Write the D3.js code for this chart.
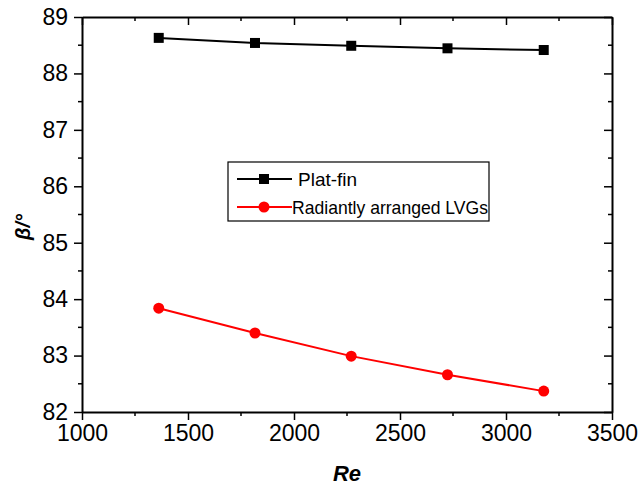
<!DOCTYPE html>
<html>
<head>
<meta charset="utf-8">
<script src="https://cdn.jsdelivr.net/npm/d3@7"></script>
<style>
  body { margin: 0; background: #fff; }
  text { font-family: Arial, "Liberation Sans", sans-serif; fill: #000; }
</style>
</head>
<body>
<div id="chart"></div>
<script>
var reValues = [1362, 1816, 2270, 2724, 3178];
var platFin = [88.63, 88.54, 88.49, 88.445, 88.415];
var radiant = [83.84, 83.40, 82.99, 82.66, 82.37];
var xTicks = [1000, 1500, 2000, 2500, 3000, 3500];
var yTicks = [82, 83, 84, 85, 86, 87, 88, 89];
var seriesNames = ["Plat-fin", "Radiantly arranged LVGs"];

var margin = {top: 17, right: 27, bottom: 77, left: 82},
    width = 639 - margin.left - margin.right,
    height = 489 - margin.top - margin.bottom;

var svg = d3.select("#chart").append("svg")
    .attr("width", 639)
    .attr("height", 489)
  .append("g")
    .attr("transform", "translate(" + margin.left + "," + margin.top + ")");

var x = d3.scaleLinear().domain([1000, 3500]).range([0, width]);
var y = d3.scaleLinear().domain([82, 89]).range([height, 0]);

var minorX = d3.range(1250, 3500, 500);
var minorY = d3.range(82.5, 89, 1);
var fmt = d3.format("d");

// bottom axis
var xAxis = svg.append("g")
    .attr("transform", "translate(0," + height + ")")
    .call(d3.axisBottom(x).tickValues(xTicks).tickFormat(fmt).tickSizeInner(8).tickSizeOuter(0).tickPadding(5));
xAxis.selectAll("g.minor").data(minorX).enter().append("line")
    .attr("x1", function(d) { return x(d); }).attr("x2", function(d) { return x(d); })
    .attr("y1", 0).attr("y2", 4);

// left axis
var yAxis = svg.append("g")
    .call(d3.axisLeft(y).tickValues(yTicks).tickFormat(fmt).tickSizeInner(8).tickSizeOuter(0).tickPadding(6));
yAxis.selectAll("g.minor").data(minorY).enter().append("line")
    .attr("y1", function(d) { return y(d); }).attr("y2", function(d) { return y(d); })
    .attr("x1", 0).attr("x2", -4);

// top axis (ticks inward)
var topAxis = svg.append("g")
    .call(d3.axisBottom(x).tickValues(xTicks).tickSizeInner(8).tickSizeOuter(0).tickFormat(""));
topAxis.selectAll("g.minor").data(minorX).enter().append("line")
    .attr("x1", function(d) { return x(d); }).attr("x2", function(d) { return x(d); })
    .attr("y1", 0).attr("y2", 4);

// right axis (ticks inward)
var rightAxis = svg.append("g")
    .attr("transform", "translate(" + width + ",0)")
    .call(d3.axisLeft(y).tickValues(yTicks).tickSizeInner(8).tickSizeOuter(0).tickFormat(""));
rightAxis.selectAll("g.minor").data(minorY).enter().append("line")
    .attr("y1", function(d) { return y(d); }).attr("y2", function(d) { return y(d); })
    .attr("x1", 0).attr("x2", -4);

svg.selectAll(".domain").attr("stroke", "#000").attr("stroke-width", 2);
svg.selectAll(".tick line").attr("stroke", "#000").attr("stroke-width", 1.5);
svg.selectAll("g > line").attr("stroke", "#000").attr("stroke-width", 1.5);
svg.selectAll(".tick text").style("font-size", "23px").attr("fill", "#000");

var line = d3.line()
    .x(function(d) { return x(d[0]); })
    .y(function(d) { return y(d[1]); });

var blackData = d3.zip(reValues, platFin);
var redData = d3.zip(reValues, radiant);

svg.append("path").datum(blackData)
    .attr("d", line).attr("fill", "none").attr("stroke", "#000").attr("stroke-width", 2);
svg.selectAll(".sq").data(blackData).enter().append("rect")
    .attr("x", function(d) { return x(d[0]) - 5; })
    .attr("y", function(d) { return y(d[1]) - 5; })
    .attr("width", 10).attr("height", 10).attr("fill", "#000");

svg.append("path").datum(redData)
    .attr("d", line).attr("fill", "none").attr("stroke", "#ff0000").attr("stroke-width", 2);
svg.selectAll(".dot").data(redData).enter().append("circle")
    .attr("cx", function(d) { return x(d[0]); })
    .attr("cy", function(d) { return y(d[1]); })
    .attr("r", 5.5).attr("fill", "#ff0000");

// legend
var lg = svg.append("g").attr("transform", "translate(" + (228 - margin.left) + "," + (162 - margin.top) + ")");
lg.append("rect").attr("width", 261).attr("height", 59)
    .attr("fill", "#fff").attr("stroke", "#000").attr("stroke-width", 1.2);
lg.append("line").attr("x1", 9).attr("x2", 64).attr("y1", 17).attr("y2", 17)
    .attr("stroke", "#000").attr("stroke-width", 2);
lg.append("rect").attr("x", 31).attr("y", 12).attr("width", 10).attr("height", 10).attr("fill", "#000");
lg.append("text").attr("x", 70).attr("y", 24).style("font-size", "19px").text(seriesNames[0]);
lg.append("line").attr("x1", 9).attr("x2", 64).attr("y1", 45).attr("y2", 45)
    .attr("stroke", "#ff0000").attr("stroke-width", 2);
lg.append("circle").attr("cx", 36).attr("cy", 45).attr("r", 5.5).attr("fill", "#ff0000");
lg.append("text").attr("x", 64).attr("y", 52).style("font-size", "19px")
    .attr("textLength", 196).attr("lengthAdjust", "spacingAndGlyphs").text(seriesNames[1]);

// axis titles
svg.append("text")
    .attr("x", width / 2).attr("y", height + 69)
    .attr("text-anchor", "middle")
    .style("font-size", "22px").style("font-weight", "bold").style("font-style", "italic")
    .text("Re");

svg.append("text")
    .attr("transform", "translate(" + (30 - margin.left) + "," + (227 - margin.top) + ") rotate(-90)")
    .attr("text-anchor", "middle")
    .style("font-size", "20px").style("font-weight", "bold").style("font-style", "italic")
    .text("\u03b2/\u00b0");
</script>
</body>
</html>
